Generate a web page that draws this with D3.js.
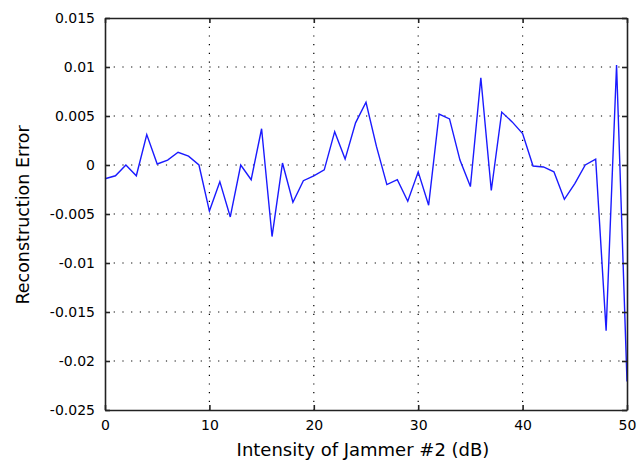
<!DOCTYPE html>
<html>
<head>
<meta charset="utf-8">
<script src="https://cdn.jsdelivr.net/npm/d3@7"></script>
<style>
  body { margin: 0; background: #fff; }
  text { font-family: "DejaVu Sans", sans-serif; fill: #000; }
</style>
</head>
<body>
<div id="chart"></div>
<script>
// jammer intensity (dB) and reconstruction error
var intensity = d3.range(0, 51);
var recError = [
  -0.0014, -0.0011, 0.0000, -0.0011, 0.0031, 0.0001, 0.0005, 0.0013, 0.0009, 0.0000,
  -0.0047, -0.0017, -0.0053, 0.0000, -0.0015, 0.0037, -0.0073, 0.0002, -0.0038, -0.0016,
  -0.0011, -0.0005, 0.0034, 0.0006, 0.0043, 0.0064, 0.0019, -0.0020, -0.0015, -0.0037,
  -0.0007, -0.0041, 0.0052, 0.0047, 0.0005, -0.0022, 0.0089, -0.0026, 0.0054, 0.0044,
  0.0032, -0.0001, -0.0002, -0.0007, -0.0035, -0.0019, 0.0000, 0.0006, -0.0169, 0.0102,
  -0.0221
];
var xTicks = [0, 10, 20, 30, 40, 50];
var yTicks = [-0.025, -0.02, -0.015, -0.01, -0.005, 0, 0.005, 0.01, 0.015];
var yTickLabels = ["-0.025", "-0.02", "-0.015", "-0.01", "-0.005", "0", "0.005", "0.01", "0.015"];

var W = 637, H = 461;
var margin = {top: 18, right: 10, bottom: 51, left: 105};
var width = W - margin.left - margin.right,
    height = H - margin.top - margin.bottom;

var svg = d3.select("#chart").append("svg")
    .attr("width", W)
    .attr("height", H);

var g = svg.append("g")
    .attr("transform", "translate(" + margin.left + "," + margin.top + ")");

var x = d3.scaleLinear().domain([0, 50]).range([0, width]);
var y = d3.scaleLinear().domain([-0.025, 0.015]).range([height, 0]);

// dotted grid
g.selectAll(".vgrid").data(xTicks.slice(1, -1)).enter().append("line")
    .attr("x1", function(d){ return x(d); })
    .attr("x2", function(d){ return x(d); })
    .attr("y1", 0).attr("y2", height)
    .attr("stroke", "#000").attr("stroke-width", 1.2)
    .attr("stroke-dasharray", "1.2,7.5");
g.selectAll(".hgrid").data(yTicks.slice(1, -1)).enter().append("line")
    .attr("y1", function(d){ return y(d); })
    .attr("y2", function(d){ return y(d); })
    .attr("x1", 0).attr("x2", width)
    .attr("stroke", "#000").attr("stroke-width", 1.2)
    .attr("stroke-dasharray", "1.2,7.5");

// the line
var line = d3.line()
    .x(function(d, i){ return x(intensity[i]); })
    .y(function(d){ return y(d); });

g.append("path")
    .datum(recError)
    .attr("fill", "none")
    .attr("stroke", "#1a1aff")
    .attr("stroke-width", 1.4)
    .attr("d", line);

// axes, ticks inside on all four sides
var ax = {
  bottom: d3.axisBottom(x).tickValues(xTicks).tickSizeInner(-5).tickSizeOuter(0).tickPadding(10).tickFormat(d3.format("d")),
  top: d3.axisTop(x).tickValues(xTicks).tickSizeInner(-5).tickSizeOuter(0).tickFormat(""),
  left: d3.axisLeft(y).tickValues(yTicks).tickSizeInner(-5).tickSizeOuter(0).tickPadding(10)
        .tickFormat(function(d, i){ return yTickLabels[i]; }),
  right: d3.axisRight(y).tickValues(yTicks).tickSizeInner(-5).tickSizeOuter(0).tickFormat("")
};

g.append("g").attr("transform", "translate(0," + height + ")").call(ax.bottom);
g.append("g").call(ax.top);
g.append("g").call(ax.left);
g.append("g").attr("transform", "translate(" + width + ",0)").call(ax.right);

g.selectAll(".domain").attr("stroke", "#222").attr("stroke-width", 1.6);
g.selectAll(".tick line").attr("stroke", "#222").attr("stroke-width", 1.6);
g.selectAll(".tick text").style("font-size", "14px").attr("fill", "#000");

// axis titles
svg.append("text")
    .attr("x", 363)
    .attr("y", 456)
    .attr("text-anchor", "middle")
    .style("font-size", "18px")
    .text("Intensity of Jammer #2 (dB)");

svg.append("text")
    .attr("transform", "translate(29,215) rotate(-90)")
    .attr("text-anchor", "middle")
    .style("font-size", "17.5px")
    .text("Reconstruction Error");
</script>
</body>
</html>
